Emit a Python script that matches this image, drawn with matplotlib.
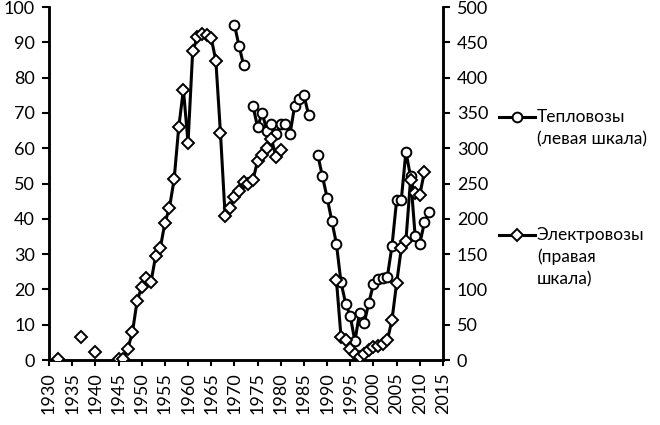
import matplotlib
matplotlib.use("Agg")
import matplotlib.pyplot as plt
from matplotlib.lines import Line2D
import numpy as np

nan = np.nan

# Тепловозы (left scale), NaN breaks the line
diesel_years = [1970, 1971, 1972, 1973,
                1974, 1975, 1976, 1977, 1978, 1979, 1980, 1981, 1982, 1983,
                1984, 1985, 1986, 1987,
                1988, 1989, 1990, 1991, 1992, 1993, 1994, 1995, 1996, 1997,
                1998, 1999, 2000, 2001, 2002, 2003, 2004, 2005, 2006, 2007,
                2008, 2009, 2010, 2011, 2012]
diesel_units = [95, 89, 83.5, nan,
                72, 66, 70, 65, 67, 64, 67, 67, 64, 72,
                74, 75, 69.5, nan,
                58, 52, 46, 39.5, 33, 22, 16, 12.4, 5.3, 13.4,
                10.5, 16.2, 21.5, 23, 23.3, 23.6, 32.3, 45.3, 45.3, 59,
                52, 35, 33, 39, 42]

# Электровозы (right scale), NaN breaks the line
electric_years = [1932, 1933, 1937, 1938, 1940, 1941,
                  1945, 1946, 1947, 1948, 1949, 1950, 1951, 1952, 1953, 1954,
                  1955, 1956, 1957, 1958, 1959, 1960, 1961, 1962, 1963, 1964,
                  1965, 1966, 1967, 1968, 1969, 1970, 1971, 1972, 1973, 1974,
                  1975, 1976, 1977, 1978, 1979, 1980, 1981,
                  1992, 1993, 1994, 1995, 1996, 1997, 1998, 1999, 2000, 2001,
                  2002, 2003, 2004, 2005, 2006, 2007, 2008, 2009, 2010, 2011]
electric_units = [2, nan, 32, nan, 11, nan,
                  1, 2, 16, 39, 83, 104, 116, 110, 147, 158,
                  194, 216, 256, 330, 383, 308, 437, 457, 462, 460,
                  456, 424, 321, 204, 215, 231, 240, 252, 250, 255,
                  282, 290, 300, 313, 287, 297, nan,
                  114, 33, 28, 15, 9, 4, 9, 14, 18, 20,
                  22, 28, 57, 109, 158, 169, 255, 236, 234, 267]

x_ticks = list(range(1930, 2016, 5))
left_ticks = list(range(0, 101, 10))
right_ticks = list(range(0, 501, 50))

plt.rcParams['font.family'] = ['Lato', 'Noto Sans', 'DejaVu Sans']
plt.rcParams['font.size'] = 13

fig = plt.figure(figsize=(6.6, 4.25), dpi=100)
ax = fig.add_axes([0.0742, 0.1529, 0.5970, 0.8306])
ax2 = ax.twinx()

ax.plot(diesel_years, diesel_units, color='black', lw=2.2, marker='o',
        ms=7, mfc='white', mec='black', mew=1.4, zorder=3)
ax2.plot(electric_years, electric_units, color='black', lw=2.2, marker='D',
         ms=6.3, mfc='white', mec='black', mew=1.4, zorder=3)

ax.set_xlim(1930, 2015)
ax.set_ylim(0, 100)
ax2.set_ylim(0, 500)
ax.set_xticks(x_ticks)
ax.set_xticklabels([str(t) for t in x_ticks], rotation=90)
ax.set_yticks(left_ticks)
ax2.set_yticks(right_ticks)

for a in (ax, ax2):
    a.spines['top'].set_visible(False)
    for s in a.spines.values():
        s.set_linewidth(1.8)
    a.tick_params(direction='out', length=5, width=1.5, pad=5)
ax.tick_params(axis='x', length=4, pad=5)

# legend drawn by hand: handle aligned with first text line
legend_items = [
    ('o', 7, 117, ["Тепловозы", "(левая шкала)"]),
    ('D', 6.3, 235, ["Электровозы", "(правая", "шкала)"]),
]
for marker, ms, ypx, lines in legend_items:
    yf = 1 - ypx / 425
    fig.add_artist(Line2D([499 / 660, 535 / 660], [yf, yf], color='black',
                          lw=2.2, transform=fig.transFigure))
    fig.add_artist(Line2D([517 / 660], [yf], color='black', lw=0, marker=marker,
                          ms=ms, mfc='white', mec='black', mew=1.4,
                          transform=fig.transFigure))
    for i, txt in enumerate(lines):
        fig.text(537 / 660, 1 - (ypx + i * 22) / 425, txt, ha='left',
                 va='center', fontsize=12.5)

fig.savefig('out.png', dpi=100)
